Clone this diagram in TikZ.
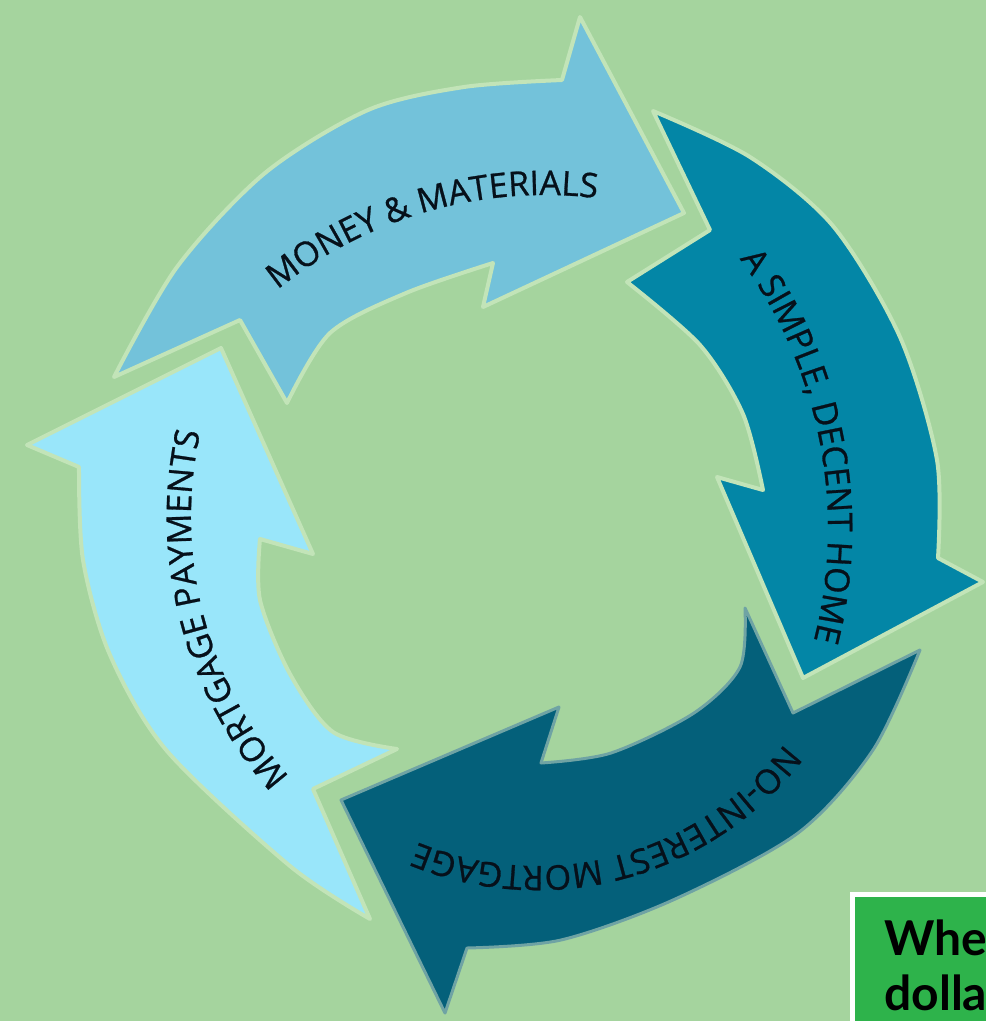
\documentclass[tikz,border=0pt]{standalone}
\usepackage{fontspec}
\newfontfamily\osfont[FakeBold=0.8]{Open Sans}
\newfontfamily\latofont{Lato}
\usetikzlibrary{decorations.text}
\definecolor{bg}{HTML}{A5D49E}
\definecolor{arrA}{HTML}{73C2DA}
\definecolor{arrB}{HTML}{0386A6}
\definecolor{arrC}{HTML}{04607A}
\definecolor{arrD}{HTML}{99E6FA}
\definecolor{rim}{HTML}{C2E4B8}
\definecolor{rimdark}{HTML}{6FA3A4}
\definecolor{txt}{HTML}{06101A}
\definecolor{boxgreen}{HTML}{2EB34B}
\newcommand\arclabelfont{\osfont\fontsize{34pt}{40pt}\selectfont\color{txt}}
\begin{document}
\begin{tikzpicture}[x=1pt,y=1pt,
  arrowshape/.style={fill=#1, draw=rim, line width=4pt, line join=round},
  arclabel/.style={decorate, decoration={text along path, text align=center, text={#1}}},
  boxtext/.style={anchor=base west, inner sep=0pt, font=\latofont\bfseries\fontsize{48pt}{52pt}\selectfont, text=black},
]
\useasboundingbox (0,-1021) rectangle (986,0);
\clip (0,-1021) rectangle (986,0);
\fill[bg] (0,-1021) rectangle (986,0);

% arrow 1: MONEY & MATERIALS
\path[arrowshape=arrA] (114,-377) -- plot[smooth] coordinates {(114,-377) (177,-267) (265,-173) (368,-110) (464,-87) (562,-80)}
  -- (580,-17) -- (684,-213) -- (483,-307) -- (493,-263)
  -- plot[smooth] coordinates {(493,-263) (406,-293) (330,-333) (287,-403)}
  -- (240,-320) -- cycle;

% arrow 2: A SIMPLE, DECENT HOME
\path[arrowshape=arrB] (653,-111) -- plot[smooth] coordinates {(653,-111) (750,-157) (833,-226) (900,-337) (937,-460) (938,-558)}
  -- (983,-582) -- (803,-678) -- (717,-477) -- (763,-490)
  -- plot[smooth] coordinates {(763,-490) (743,-414) (700,-345) (627,-282)}
  -- (710,-230) -- cycle;

% arrow 3: NO-INTEREST MORTGAGE
\path[arrowshape=arrC, draw=rimdark, line width=3pt] (920,-650) -- plot[smooth] coordinates {(920,-650) (873,-750) (798,-833) (673,-900) (561,-940) (467,-948)}
  -- (445,-1013) -- (341,-800) -- (559,-707) -- (541,-763)
  -- plot[smooth] coordinates {(541,-763) (611,-753) (694,-713) (740,-667) (745,-608)}
  -- (793,-713) -- cycle;

% arrow 4: MORTGAGE PAYMENTS
\path[arrowshape=arrD] (370,-919) -- plot[smooth] coordinates {(370,-919) (290,-866) (167,-751) (110,-655) (83,-560) (79,-467)}
  -- (27,-445) -- (221,-348) -- (313,-554) -- (260,-539)
  -- plot[smooth] coordinates {(260,-539) (260,-600) (290,-674) (333,-732) (397,-749)}
  -- (313,-789) -- cycle;

% curved labels
\path[arclabel={|\arclabelfont|MONEY {\&} MATERIALS}] (545,-620) ++(136:425pt) arc[start angle=136, end angle=76, radius=425pt];
\path[arclabel={|\arclabelfont|A SIMPLE, DECENT HOME}] (374,-528) ++(42:454pt) arc[start angle=42, end angle=-20, radius=454pt];
\path[arclabel={|\arclabelfont|NO-INTEREST MORTGAGE}] (537,-554) ++(-28:312pt) arc[start angle=-28, end angle=-122, radius=312pt];
\path[arclabel={|\arclabelfont|MORTGAGE PAYMENTS}] (583,-517) ++(228:392pt) arc[start angle=228, end angle=161, radius=392pt];

% green box
\fill[white] (850,-892) rectangle (1000,-1030);
\fill[boxgreen] (855,-897) rectangle (1000,-1030);
\node[boxtext] (boxline1) at (884,-955) {Whe};
\node[boxtext] (boxline2) at (884,-1010) {dolla};
\end{tikzpicture}
\end{document}
